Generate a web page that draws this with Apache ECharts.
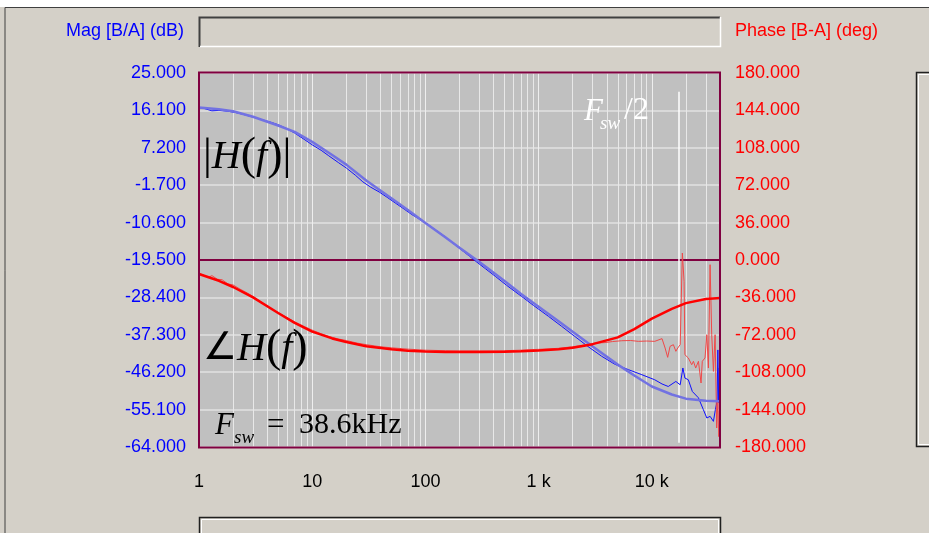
<!DOCTYPE html>
<html>
<head>
<meta charset="utf-8">
<script src="https://cdn.jsdelivr.net/npm/echarts@6/dist/echarts.min.js"></script>
<style>
  html, body { margin: 0; padding: 0; background: #d4d0c8; }
  #chart { width: 929px; height: 533px; }
</style>
</head>
<body>
<div id="chart"></div>
<script>
// fitted (model) curves
const freqModel = [1, 1.5, 2, 3, 5, 7, 10, 15, 20, 30, 50, 70, 100, 150, 200, 300, 500, 700,
  1000, 1500, 2000, 3000, 5000, 7000, 10000, 15000, 20000, 30000, 40000];
const magModel = [16.8, 16.4, 15.9, 14.6, 12.5, 11.0, 8.6, 5.5, 3.2, -0.6, -4.8, -7.6, -10.7, -14.1, -16.6, -20.0, -24.5, -27.6,
  -30.6, -34.1, -36.6, -40.1, -44.4, -47.0, -49.6, -51.5, -52.5, -53.0, -53.1];
const phaseModel = [-13.5, -20, -26, -36, -51, -60.5, -69, -75.5, -79, -83, -86, -87.3, -88, -88.5, -88.6, -88.5, -88.2, -87.9,
  -87.2, -86, -84.5, -81, -74.5, -66.5, -56.5, -47, -41.5, -37.5, -36.6];

// measured magnitude
const freqMagMeas = [1, 1.1, 1.3, 1.5, 1.8, 2.1, 2.5, 3, 3.6, 4.3, 5, 6, 7, 8.5, 10, 12, 14, 17, 20, 24, 28, 33, 39, 46, 54,
  65, 76, 90, 106, 125, 148, 175, 208, 245, 275, 340, 415, 520, 710, 900, 1220, 1600, 2090, 2700, 3600, 4700, 6220,
  8170, 10600, 12300, 13960, 16300, 17800, 18800, 19600, 21000, 22800, 25800, 28500, 30600, 32700, 35000, 36400,
  37700, 38300, 38900, 39400, 40000];
const magMeas = [16.7, 16.6, 16.0, 16.1, 15.9, 15.6, 15.1, 14.5, 13.9, 13.3, 12.7, 11.7, 10.7, 9.2, 7.9, 6.6, 5.3, 3.7, 2.4,
  0.7, -0.9, -2.2, -3.3, -4.6, -5.9, -7.4, -8.7, -9.9, -11.1, -12.5, -13.9, -15.5, -17.1, -18.6, -19.7, -21.6, -23.4,
  -25.5, -28.2, -30.3, -32.9, -35.3, -37.7, -40.0, -42.4, -44.3, -45.6, -46.8, -48.0, -49.0, -49.6, -48.4, -49.2,
  -45.2, -47.6, -48.0, -50.8, -52.3, -55.1, -57.1, -56.7, -57.9, -55.1, -53.1, -40.9, -53.5, -45.2, -52.0];

// measured phase
const freqPhaseMeas = [1, 1.1, 1.2, 1.3, 1.45, 1.6, 1.8, 2, 2.3, 2.6, 3, 3.6, 4.3, 5, 6, 7, 8.5, 10, 12, 14, 17, 20, 25, 30,
  40, 50, 70, 100, 150, 200, 300, 500, 700, 1000, 1500, 2000, 2750, 3150, 3860, 4500, 5420, 6500, 7600, 9000, 10600,
  12300, 13090, 13800, 14490, 15500, 16300, 16940, 17800, 18600, 19260, 19600, 21000, 22500, 23300, 24400, 25800,
  27200, 27900, 29500, 30600, 31600, 32700, 33800, 35000, 36200, 37400, 38300, 39000, 40000];
const phaseMeas = [-13, -14.5, -17, -15, -18.5, -19, -23, -24, -28, -31, -35, -41, -46.5, -50.5, -55.5, -59.5, -64, -67.5,
  -71, -73.5, -76, -77.5, -80, -81.5, -83.5, -84.5, -85.8, -86.8, -87.3, -87.5, -87.5, -87.3, -86.8, -86, -85, -83.5,
  -81.3, -80, -79.5, -78.5, -77.7, -77.5, -78.3, -78, -78.3, -75.7, -84.7, -93.7, -83.1, -81.5, -87.9, -84.7, -81.5,
  6.7, -20.5, -91.2, -94.3, -100.8, -97.5, -104, -97.5, -118.4, -97.5, -94.3, -71.9, -104, -4.5, -71.9, -107.2, -71.9,
  -161.7, -136, -170, -150];

// log grid lines between decades, and the Fsw/2 marker
const minorFreqs = [2, 3, 4, 5, 6, 7, 8, 9, 20, 30, 40, 50, 60, 70, 80, 90, 200, 300, 400, 500, 600, 700, 800, 900,
  2000, 3000, 4000, 5000, 6000, 7000, 8000, 9000, 20000, 30000];
const fswHalf = 17400;

const pairs = (xs, ys) => xs.map((x, i) => [x, ys[i]]);

const chart = echarts.init(document.getElementById('chart'));
const sans = 'Liberation Sans, Arial, sans-serif';
const serif = 'Liberation Serif, Times New Roman, serif';

chart.setOption({
  animation: false,
  backgroundColor: '#d4d0c8',
  grid: { left: 199, right: 209, top: 73, bottom: 86 },
  xAxis: {
    type: 'log', logBase: 10, min: 1, max: 40000,
    axisLine: { show: false }, axisTick: { show: false },
    axisLabel: {
      color: '#000', fontFamily: sans, fontSize: 18, margin: 26, showMaxLabel: false,
      formatter: (v) => (v >= 40000 ? '' : v >= 1000 ? v / 1000 + ' k' : String(v))
    },
    splitLine: { show: true, lineStyle: { color: '#eeeeee', width: 1 } }
  },
  yAxis: [
    {
      type: 'value', min: -64, max: 25, interval: 8.9, position: 'left',
      name: 'Mag [B/A] (dB)', nameLocation: 'end', nameGap: 33,
      nameTextStyle: { color: '#0000ff', fontFamily: sans, fontSize: 18, align: 'right', padding: [0, 15, 0, 0] },
      axisLine: { show: false }, axisTick: { show: false },
      axisLabel: { color: '#0000ff', fontFamily: sans, fontSize: 18, margin: 13, formatter: (v) => v.toFixed(3) },
      splitLine: { show: true, lineStyle: { color: '#e2e2e2', width: 1.5 } }
    },
    {
      type: 'value', min: -180, max: 180, interval: 36, position: 'right',
      name: 'Phase [B-A] (deg)', nameLocation: 'end', nameGap: 33,
      nameTextStyle: { color: '#ff0000', fontFamily: sans, fontSize: 18, align: 'left', padding: [0, 0, 0, 15] },
      axisLine: { show: false }, axisTick: { show: false },
      axisLabel: { color: '#ff0000', fontFamily: sans, fontSize: 18, margin: 15, formatter: (v) => v.toFixed(3) },
      splitLine: { show: false }
    }
  ],
  series: [
    {
      name: 'grid', type: 'line', data: [], z: 1,
      markLine: {
        silent: true, symbol: 'none', z: 1, label: { show: false },
        lineStyle: { color: '#e8e8e8', width: 1, type: 'solid' },
        data: minorFreqs.map((f) => ({ xAxis: f }))
      }
    },
    {
      name: 'Mag meas', type: 'line', yAxisIndex: 0, showSymbol: false, z: 3,
      lineStyle: { color: '#1010ff', width: 1 },
      data: pairs(freqMagMeas, magMeas)
    },
    {
      name: 'Phase meas', type: 'line', yAxisIndex: 1, showSymbol: false, z: 3,
      lineStyle: { color: '#f04848', width: 1 },
      data: pairs(freqPhaseMeas, phaseMeas),
      markLine: {
        silent: true, symbol: 'none', z: 2, label: { show: false },
        data: [
          { yAxis: 0, lineStyle: { color: '#800040', width: 2, type: 'solid' } },
          [
            { coord: [fswHalf, 162], lineStyle: { color: '#ffffff', width: 1.5, type: 'solid' } },
            { coord: [fswHalf, -176] }
          ]
        ]
      }
    },
    {
      name: 'Mag model', type: 'line', yAxisIndex: 0, showSymbol: false, z: 4,
      lineStyle: { color: '#7272e2', width: 2.5 },
      data: pairs(freqModel, magModel)
    },
    {
      name: 'Phase model', type: 'line', yAxisIndex: 1, showSymbol: false, z: 4,
      lineStyle: { color: '#ff0000', width: 2.5 },
      data: pairs(freqModel, phaseModel)
    }
  ],
  graphic: [
    // plot background (under the split lines) and border
    { type: 'rect', z: -10, shape: { x: 199, y: 73, width: 521, height: 374 }, style: { fill: '#c0c0c0' }, silent: true },
    { type: 'rect', z: 50, shape: { x: 199, y: 72.5, width: 521, height: 375 }, style: { fill: null, stroke: '#800040', lineWidth: 2 }, silent: true },
    // window edges
    { type: 'rect', shape: { x: 0, y: 0, width: 929, height: 7 }, style: { fill: '#ffffff' }, silent: true },
    { type: 'polyline', shape: { points: [[5, 533], [5, 7.5], [929, 7.5]] }, style: { stroke: '#404040', lineWidth: 1, fill: null }, silent: true },
    // sunken title box
    { type: 'rect', shape: { x: 199, y: 17, width: 521, height: 30 }, style: { fill: '#d4d0c8' }, silent: true },
    { type: 'polyline', shape: { points: [[199.5, 47], [199.5, 17.5], [720, 17.5]] }, style: { stroke: '#404040', lineWidth: 2, fill: null }, silent: true },
    { type: 'polyline', shape: { points: [[200, 46.5], [720.5, 46.5], [720.5, 17]] }, style: { stroke: '#ffffff', lineWidth: 1.5, fill: null }, silent: true },
    // right scroll bar
    { type: 'rect', shape: { x: 916.5, y: 72.5, width: 20, height: 374 }, style: { fill: '#d4d0c8', stroke: '#202020', lineWidth: 1.5 }, silent: true },
    { type: 'rect', shape: { x: 918.5, y: 74.5, width: 20, height: 370 }, style: { fill: null, stroke: '#ffffff', lineWidth: 1 }, silent: true },
    // bottom scroll bar
    { type: 'rect', shape: { x: 199.5, y: 517.5, width: 521, height: 20 }, style: { fill: '#d4d0c8', stroke: '#202020', lineWidth: 1.5 }, silent: true },
    { type: 'rect', shape: { x: 201.5, y: 519.5, width: 517, height: 20 }, style: { fill: null, stroke: '#ffffff', lineWidth: 1 }, silent: true },
    // annotations
    {
      type: 'text', left: 203, top: 134, z: 100, silent: true,
      style: {
        text: '{n||}{i|H}{p|(}{i|f}{p|)}{n||}',
        rich: {
          n: { fontFamily: serif, fontSize: 44, fill: '#000' },
          i: { fontFamily: serif, fontSize: 40, fontStyle: 'italic', fill: '#000' },
          p: { fontFamily: serif, fontSize: 46, fill: '#000' }
        }
      }
    },
    {
      type: 'text', left: 203, top: 326, z: 100, silent: true,
      style: {
        text: '{n|∠}{i|H}{p|(}{i|f}{p|)}',
        rich: {
          n: { fontFamily: serif, fontSize: 38, fill: '#000' },
          i: { fontFamily: serif, fontSize: 40, fontStyle: 'italic', fill: '#000' },
          p: { fontFamily: serif, fontSize: 46, fill: '#000' }
        }
      }
    },
    { type: 'text', left: 215, top: 410, z: 100, silent: true, style: { text: 'F', font: 'italic 31px ' + serif, fill: '#000' } },
    { type: 'text', left: 234, top: 428, z: 100, silent: true, style: { text: 'sw', font: 'italic 19px ' + serif, fill: '#000' } },
    { type: 'text', left: 267, top: 410, z: 100, silent: true, style: { text: '=', font: '31px ' + serif, fill: '#000' } },
    { type: 'text', left: 299, top: 410, z: 100, silent: true, style: { text: '38.6kHz', font: '30px ' + serif, fill: '#000' } },
    { type: 'text', left: 584, top: 96, z: 100, silent: true, style: { text: 'F', font: 'italic 31px ' + serif, fill: '#ffffff' } },
    { type: 'text', left: 600, top: 114, z: 100, silent: true, style: { text: 'sw', font: 'italic 19px ' + serif, fill: '#ffffff' } },
    { type: 'text', left: 624, top: 95, z: 100, silent: true, style: { text: '/2', font: '32px ' + serif, fill: '#ffffff' } }
  ]
});
</script>
</body>
</html>
